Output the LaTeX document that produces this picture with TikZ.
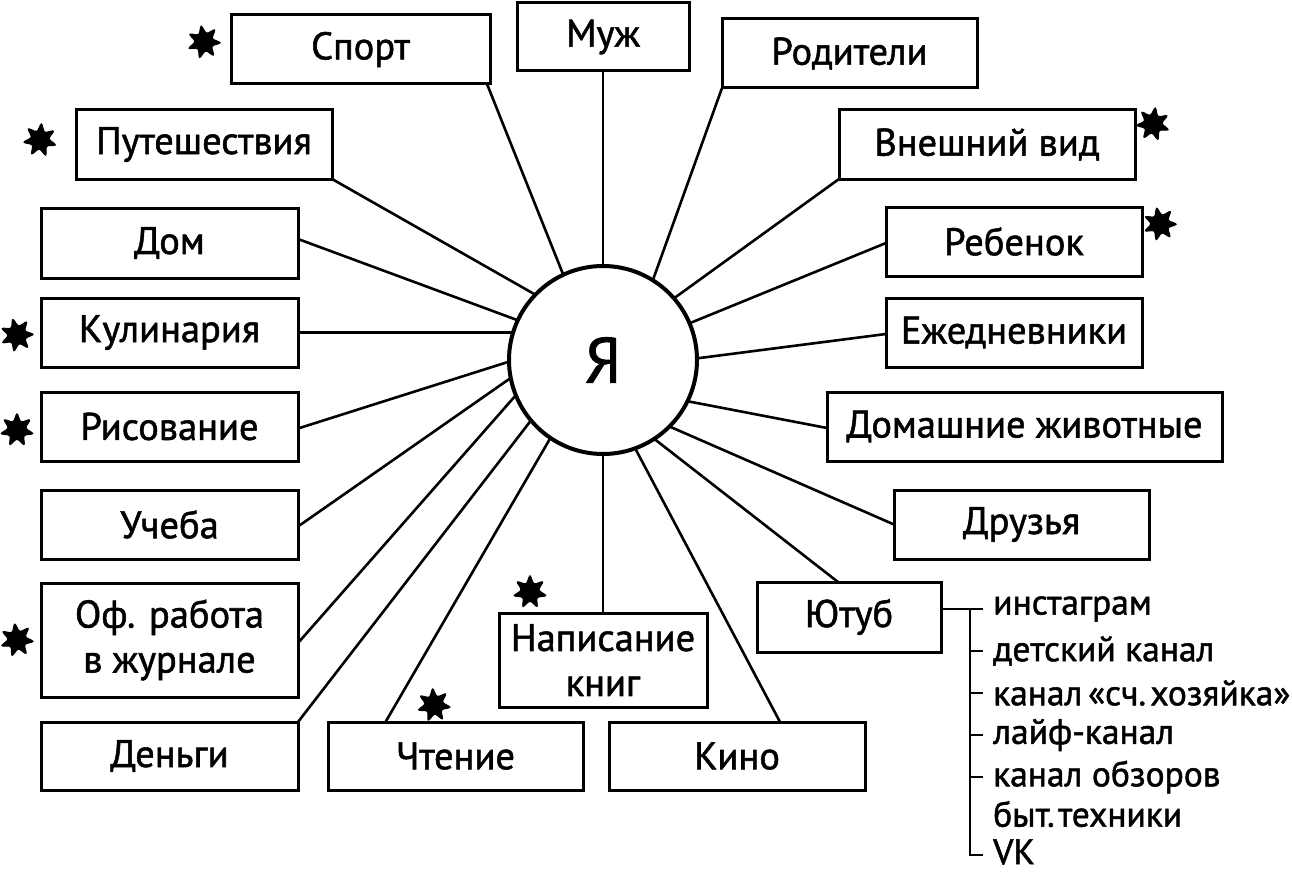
\documentclass[tikz,border=0pt]{standalone}
\usepackage{fontspec}
\setmainfont{PT Sans}[FakeBold=1.2]
\newfontfamily\heavysans{PT Sans}[FakeBold=1.4]
\usetikzlibrary{shapes.geometric}
\begin{document}
\begin{tikzpicture}[x=1pt,y=-1pt,
  box/.style={draw, line width=3pt, inner sep=0pt, outer sep=0pt, minimum height=69pt, align=center, font=\heavysans\fontsize{38.5}{45}\selectfont},
  link/.style={line width=2.6pt},
  flower/.style={star, star points=7, star point ratio=2.1, fill=black, draw=black, line width=1pt, inner sep=0pt, minimum size=35pt, rounded corners=2.5pt},
  item/.style={anchor=west, inner sep=0pt, font=\heavysans\fontsize{35.5}{40}\selectfont}
]
\useasboundingbox (0,0) rectangle (1292,872);

\node[circle, draw, line width=4pt, minimum size=188pt, inner sep=0pt, outer sep=0pt, font=\heavysans\fontsize{64}{66}\selectfont] (ya) at (603,360) {Я};

\node[box, minimum width=259pt] (sport) at (360.5,49.5) {Спорт};
\node[box, minimum width=172pt, minimum height=68pt] (muzh) at (603,37) {Муж};
\node[box, minimum width=255pt] (rod) at (849.5,53.5) {Родители};
\node[box, minimum width=256pt] (put) at (204,144.5) {Путешествия};
\node[box, minimum width=296pt] (vnesh) at (987,144.5) {Внешний вид};
\node[box, minimum width=257pt, minimum height=70pt] (dom) at (169.5,243) {Дом};
\node[box, minimum width=256pt] (reb) at (1014,241.5) {Ребенок};
\node[box, minimum width=257pt] (kul) at (169.5,332.5) {Кулинария};
\node[box, minimum width=256pt] (ezh) at (1014,332.5) {Ежедневники};
\node[box, minimum width=257pt] (ris) at (169.5,426.5) {Рисование};
\node[box, minimum width=395pt] (domzh) at (1024.5,426.5) {Домашние животные};
\node[box, minimum width=257pt] (ucheba) at (169.5,524.5) {Учеба};
\node[box, minimum width=255pt] (druz) at (1021.5,524.5) {Друзья};
\node[box, minimum width=257pt, minimum height=114pt] (of) at (169.5,640) {Оф. работа\\в журнале};
\node[box, minimum width=184pt, minimum height=70pt] (yout) at (849,617) {Ютуб};
\node[box, minimum width=208pt, minimum height=94pt] (napis) at (603,660) {Написание\\книг};
\node[box, minimum width=257pt, minimum height=68pt] (den) at (169.5,756) {Деньги};
\node[box, minimum width=255pt, minimum height=68pt] (chten) at (455.5,756) {Чтение};
\node[box, minimum width=256pt, minimum height=68pt] (kino) at (737,756) {Кино};

% connectors
\draw[link] ([xshift=-3pt]sport.south east) -- (ya.115);
\draw[link] (muzh.south) -- (ya.90);
\draw[link] (rod.south west) -- (ya.58);
\draw[link] (put.south east) -- (ya.136);
\draw[link] ([yshift=4pt]dom.east) -- (ya.155);
\draw[link] (kul.east) -- (ya.163);
\draw[link] ([yshift=-2pt]ris.east) -- (ya.181);
\draw[link] ([yshift=-2pt]ucheba.east) -- (ya.191);
\draw[link] ([yshift=-3pt]of.east) -- (ya.202.6);
\draw[link] (den.north east) -- (ya.220);
\draw[link] ([xshift=-70pt]chten.north) -- (ya.236);
\draw[link] (napis.north) -- (ya.270);
\draw[link] ([xshift=43pt]kino.north) -- (ya.290);
\draw[link] ([xshift=-11pt]yout.north) -- (ya.303.7);
\draw[link] (druz.west) -- (ya.315.4);
\draw[link] ([yshift=-1.5pt]domzh.west) -- (ya.334.2);
\draw[link] ([yshift=-1.5pt]ezh.west) -- (ya.1.2);
\draw[link] ([yshift=-1.5pt]reb.west) -- (ya.23.4);
\draw[link] (vnesh.south west) -- (ya.41.2);

% youtube list
\node[item] (i1) at (993,609) {инстаграм};
\node[item] (i2) at (993,651) {детский канал};
\node[item] (i3) at (993,693) {канал\hspace{0.16em}«сч.\hspace{0.12em}хозяйка»};
\node[item] (i4) at (993,735) {лайф-канал};
\node[item] (i5) at (993,777) {канал обзоров};
\node[item] (i5b) at (993,814) {быт.\hspace{0.1em}техники};
\node[item] (i6) at (993,852) {VK};
\coordinate (bartop) at (970,609);
\draw[link] ([yshift=8pt]yout.east) -- ([xshift=-10pt]i1.west);
\draw[link] (bartop) |- ([xshift=-10pt,yshift=-3pt]i6.west);
\draw[link] (bartop |- i2.west) -- ([xshift=-10pt]i2.west);
\draw[link] (bartop |- i3.west) -- ([xshift=-10pt]i3.west);
\draw[link] (bartop |- i4.west) -- ([xshift=-10pt]i4.west);
\draw[link] (bartop |- i5.west) -- ([xshift=-10pt]i5.west);

% stars
\node[flower, rotate=10] (s1) at (204,42) {};
\node[flower, rotate=-5] (s2) at (40,140) {};
\node[flower, rotate=15] (s3) at (17,335) {};
\node[flower] (s4) at (17,430) {};
\node[flower, rotate=8] (s5) at (17,640) {};
\node[flower, rotate=-8] (s6) at (1153,124) {};
\node[flower, rotate=12] (s7) at (1160,224) {};
\node[flower] (s8) at (530,592) {};
\node[flower, rotate=5] (s9) at (434,705) {};
\end{tikzpicture}
\end{document}
